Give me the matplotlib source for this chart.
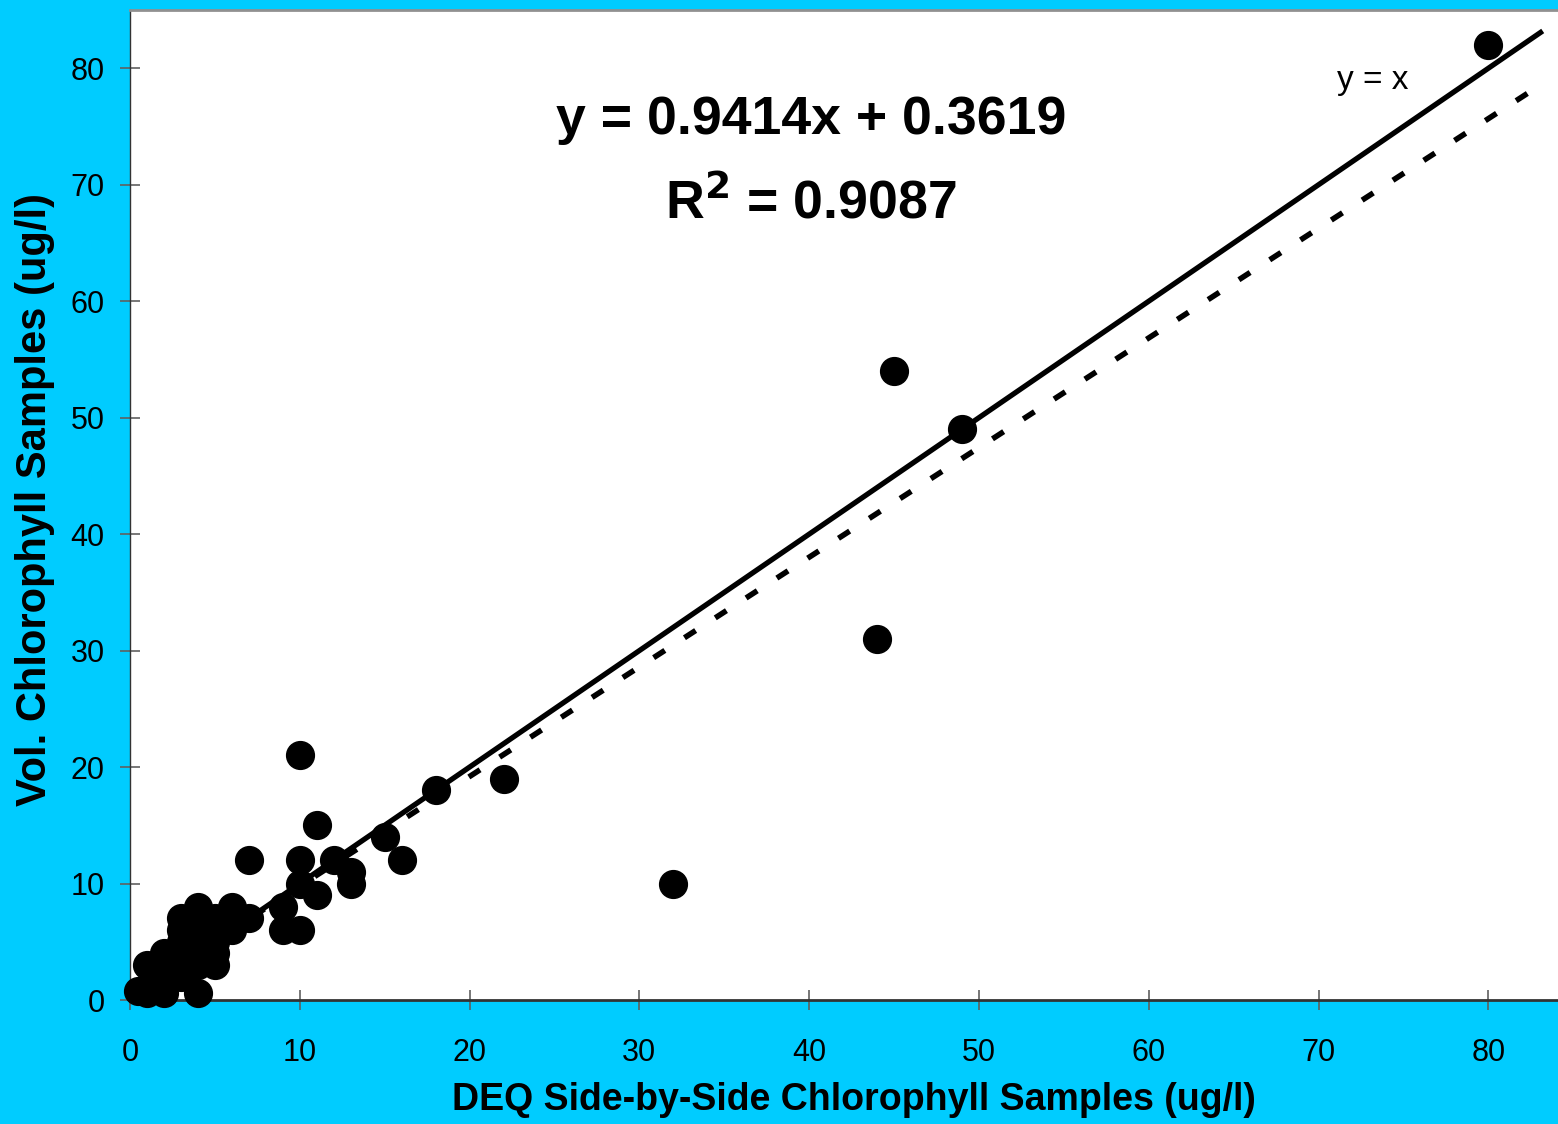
import numpy as np
import matplotlib
matplotlib.use("Agg")
from matplotlib import pyplot as plt
from matplotlib import font_manager

# DEQ side-by-side vs volunteer chlorophyll samples (ug/l)
deq_x = [0.5, 1, 1, 2, 2, 2, 3, 3, 3, 3, 3, 3,
         4, 4, 4, 4, 4, 4, 4, 5, 5, 5, 5, 5,
         6, 6, 7, 7, 9, 9, 10, 10, 10, 10, 11, 11,
         12, 13, 13, 15, 16, 18, 22, 32, 44, 45, 49, 80]
vol_y = [0.8, 0.6, 3, 0.6, 2, 4, 3, 4, 5, 6, 7, 2,
         0.6, 3, 4, 5, 6, 7, 8, 3, 4, 5, 6, 7,
         6, 8, 7, 12, 8, 6, 6, 10, 12, 21, 9, 15,
         12, 10, 11, 14, 12, 18, 19, 10, 31, 54, 49, 82]

fit_slope = 0.9414
fit_icept = 0.3619
fit_r2 = 0.9087
line_end = 83.2

xticks = [0, 10, 20, 30, 40, 50, 60, 70, 80]
yticks = [0, 10, 20, 30, 40, 50, 60, 70, 80]

names = set(f.name for f in font_manager.fontManager.ttflist)
if "Liberation Sans Narrow" in names:
    narrow = "Liberation Sans Narrow"
else:
    narrow = "Liberation Sans"
plt.rcParams['font.family'] = ['Liberation Sans', 'DejaVu Sans']

bg = "#00CCFF"
fig = plt.figure(figsize=(15.58, 11.24), dpi=100, facecolor=bg)
ax = fig.add_axes([130 / 1558, 124 / 1124, 1428 / 1558, 990 / 1124])
ax.set_facecolor("white")

# y = x line and the regression line
xs = np.array([0, line_end])
ax.plot(xs, xs, color="black", lw=3.8, solid_capstyle="butt", zorder=2)
ax.plot(xs, fit_slope * xs + fit_icept, color="black", lw=4,
        linestyle=(0, (2.4, 4.2)), zorder=2)

ax.plot(deq_x, vol_y, "o", color="black", markersize=20, zorder=3,
        clip_on=False)

ax.set_xlim(0, 84.1)
ax.set_ylim(0, 85)
ax.set_xticks(xticks)
ax.set_yticks(yticks)
ax.tick_params(direction="inout", length=14.4, width=1.2, color="#606060",
               labelsize=22)
ax.tick_params(axis="x", pad=20)
ax.tick_params(axis="y", pad=11)

ax.spines["right"].set_visible(False)
ax.spines["top"].set_color("#909090")
ax.spines["top"].set_linewidth(2)
ax.spines["left"].set_color("#333333")
ax.spines["left"].set_linewidth(1)
ax.spines["bottom"].set_color("#333333")
ax.spines["bottom"].set_linewidth(2)

fig.text(854 / 1558, 1 - 1100 / 1124, "DEQ Side-by-Side Chlorophyll Samples (ug/l)",
         ha="center", va="center", fontsize=27, fontweight="bold",
         family=[narrow, 'DejaVu Sans'])
fig.text(35 / 1558, 1 - 500 / 1124, "Vol. Chlorophyll Samples (ug/l)",
         ha="center", va="center", rotation=90, fontsize=30, fontweight="bold",
         family=[narrow, 'DejaVu Sans'])

ax.text(811 / 1428 - 130 / 1428, 1 - (120 - 10) / 990,
        "y = %.4fx + %.4f" % (fit_slope, fit_icept),
        transform=ax.transAxes, ha="center", va="center", fontsize=38.6,
        fontweight="bold", family=[narrow, 'DejaVu Sans'])
ax.text(811 / 1428 - 130 / 1428, 1 - (203 - 10) / 990,
        "R$^{\\mathbf{2}}$ = %.4f" % fit_r2,
        transform=ax.transAxes, ha="center", va="center", fontsize=38.6,
        fontweight="bold", family=[narrow, 'DejaVu Sans'])
ax.text(1373 / 1428 - 130 / 1428, 1 - (80 - 10) / 990, "y = x",
        transform=ax.transAxes, ha="center", va="center", fontsize=24)

fig.savefig("out.png", dpi=100, facecolor=bg)
